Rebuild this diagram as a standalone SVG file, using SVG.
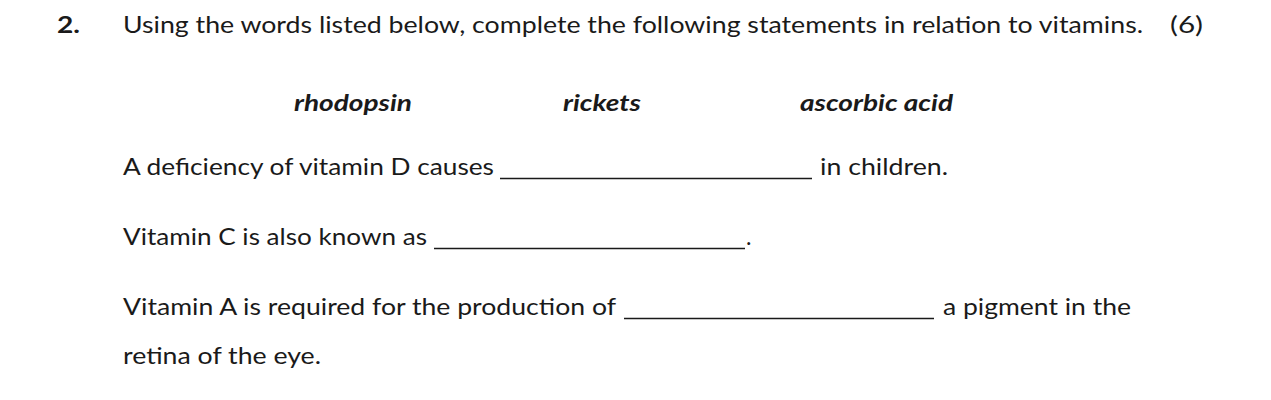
<svg xmlns="http://www.w3.org/2000/svg" width="1271" height="400" viewBox="0 0 1271 400">
<style>
text{font-family:Lato,"Open Sans","Liberation Sans",sans-serif;font-size:23px;fill:#1a1a1a}
.b{font-weight:bold}
.bi{font-weight:bold;font-style:italic}
line{stroke:#1a1a1a;stroke-width:1.3}
</style>
<rect width="1271" height="400" fill="#fff"/>
<text x="57" y="33" class="b" textLength="23" lengthAdjust="spacingAndGlyphs">2.</text>
<text x="123" y="33" textLength="1020" lengthAdjust="spacingAndGlyphs">Using the words listed below, complete the following statements in relation to vitamins.</text>
<text x="1170" y="33" textLength="33" lengthAdjust="spacingAndGlyphs">(6)</text>
<text x="294" y="111" class="bi" textLength="118" lengthAdjust="spacingAndGlyphs">rhodopsin</text>
<text x="563" y="111" class="bi" textLength="78" lengthAdjust="spacingAndGlyphs">rickets</text>
<text x="800" y="111" class="bi" textLength="153" lengthAdjust="spacingAndGlyphs">ascorbic acid</text>
<text x="123" y="175" textLength="371" lengthAdjust="spacingAndGlyphs">A deficiency of vitamin D causes</text>
<line x1="500" y1="178.5" x2="812" y2="178.5"/>
<text x="820" y="175" textLength="128" lengthAdjust="spacingAndGlyphs">in children.</text>
<text x="123" y="245" textLength="304" lengthAdjust="spacingAndGlyphs">Vitamin C is also known as</text>
<line x1="434" y1="248.5" x2="745" y2="248.5"/>
<text x="746" y="245">.</text>
<text x="123" y="315" textLength="493" lengthAdjust="spacingAndGlyphs">Vitamin A is required for the production of</text>
<line x1="624" y1="318.5" x2="934" y2="318.5"/>
<text x="943" y="315" textLength="188" lengthAdjust="spacingAndGlyphs">a pigment in the</text>
<text x="123" y="364" textLength="198" lengthAdjust="spacingAndGlyphs">retina of the eye.</text>
</svg>
